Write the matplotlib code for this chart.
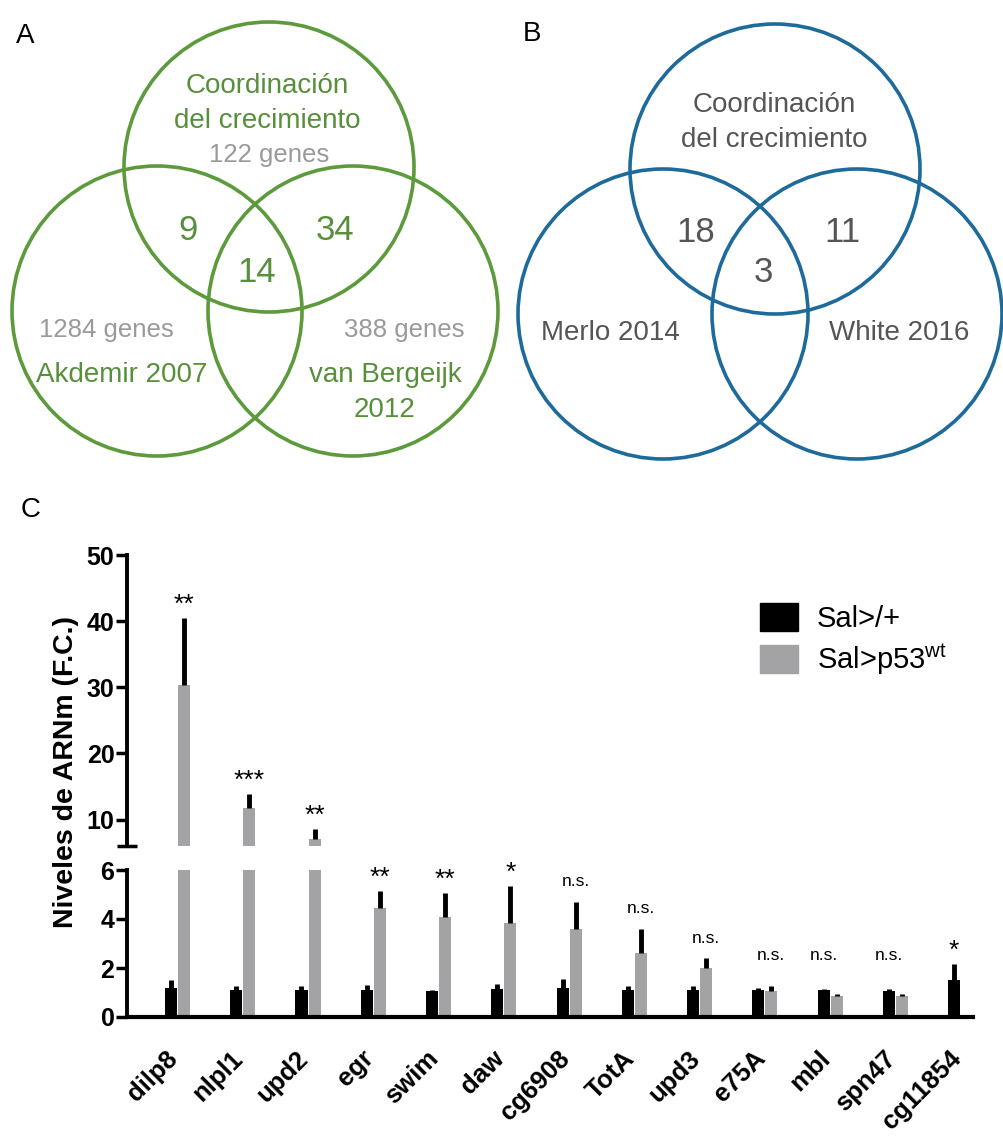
import matplotlib.pyplot as plt
import matplotlib.transforms as mtransforms
from matplotlib.patches import Circle

plt.rcParams['font.family'] = ['Liberation Sans', 'DejaVu Sans']

# --- data ---
genes = ['dilp8', 'nlpl1', 'upd2', 'egr', 'swim', 'daw', 'cg6908', 'TotA',
         'upd3', 'e75A', 'mbl', 'spn47', 'cg11854']
ctrl = [1.2, 1.1, 1.1, 1.1, 1.05, 1.15, 1.2, 1.1, 1.1, 1.1, 1.1, 1.05, 1.5]
ctrl_err = [0.3, 0.15, 0.15, 0.2, 0.05, 0.2, 0.35, 0.15, 0.15, 0.1, 0.05, 0.08, 0.65]
p53 = [30.3, 11.7, 7.0, 4.45, 4.1, 3.85, 3.6, 2.6, 2.0, 1.05, 0.85, 0.85, 0.05]
p53_err = [10.2, 2.1, 1.6, 0.7, 0.95, 1.5, 1.1, 1.0, 0.4, 0.2, 0.08, 0.08, 0.03]
signif = ['**', '***', '**', '**', '**', '*', 'n.s.', 'n.s.', 'n.s.', 'n.s.',
          'n.s.', 'n.s.', '*']
series_names = ['Sal>/+', 'Sal>p53$^{\\mathregular{wt}}$']

venn_a_sets = ['Coordinación\ndel crecimiento', 'Akdemir 2007', 'van Bergeijk\n2012']
venn_a_sizes = ['122 genes', '1284 genes', '388 genes']
venn_a_overlaps = [9, 34, 14]
venn_b_sets = ['Coordinación\ndel crecimiento', 'Merlo 2014', 'White 2016']
venn_b_overlaps = [18, 11, 3]

green = '#5c9a3c'
green_txt = '#578f3a'
blue = '#1d6a9b'
grey_txt = '#9a9a9a'
dark_txt = '#555555'
bar_grey = '#a3a3a6'

W, H = 1004, 1137
fig = plt.figure(figsize=(W / 100, H / 100), dpi=100)

# --- Venn diagrams (pixel layout axes) ---
av = fig.add_axes([0, 0, 1, 1])
av.set_xlim(0, W)
av.set_ylim(H, 0)
av.axis('off')


def lines(x, y, txt, color, size, step=35):
    # draw a multi-line label one line at a time, first line at y
    for k, t in enumerate(txt.split('\n')):
        av.text(x, y + k * step, t, color=color, fontsize=size,
                ha='center', va='center')


r = 145
for cx, cy in [(269, 167), (157, 311), (353, 311)]:
    av.add_patch(Circle((cx, cy), r, fill=False, ec=green, lw=2.6))
for cx, cy in [(775, 169), (663, 314), (857, 314)]:
    av.add_patch(Circle((cx, cy), r, fill=False, ec=blue, lw=2.6))

av.text(25, 36, 'A', fontsize=20, ha='center', va='center')
av.text(532, 34, 'B', fontsize=20, ha='center', va='center')
av.text(31, 510, 'C', fontsize=20, ha='center', va='center')

lines(267, 86, venn_a_sets[0], green_txt, 20)
av.text(269, 155, venn_a_sizes[0], color=grey_txt, fontsize=18.5, ha='center', va='center')
av.text(106, 330, venn_a_sizes[1], color=grey_txt, fontsize=18.5, ha='center', va='center')
lines(122, 375, venn_a_sets[1], green_txt, 20)
av.text(404, 330, venn_a_sizes[2], color=grey_txt, fontsize=18.5, ha='center', va='center')
lines(385, 375, venn_a_sets[2], green_txt, 20)
for (x, y), n in zip([(188, 230), (335, 230), (257, 272)], venn_a_overlaps):
    av.text(x, y, str(n), color=green_txt, fontsize=25, ha='center', va='center')

lines(774, 105, venn_b_sets[0], dark_txt, 20)
lines(610, 333, venn_b_sets[1], dark_txt, 20)
lines(899, 333, venn_b_sets[2], dark_txt, 20)
for (x, y), n in zip([(696, 233), (842, 233), (763, 273)], venn_b_overlaps):
    av.text(x, y, str(n), color=dark_txt, fontsize=25, ha='center', va='center')

# --- broken-axis bar chart ---
left = 127 / W
width = 846 / W
ax_top = fig.add_axes([left, 1 - 846 / H, width, (846 - 555) / H])
ax_bot = fig.add_axes([left, 1 - 1017 / H, width, (1017 - 870) / H])

x = list(range(len(genes)))
bw = 0.184
off = 0.1
xc = [i - off for i in x]
xg = [i + off for i in x]

for ax in (ax_top, ax_bot):
    ax.bar(xc, ctrl, bw, color='black', zorder=2)
    ax.bar(xg, p53, bw, color=bar_grey, zorder=2)
    ax.errorbar(xc, ctrl, yerr=[[0] * len(ctrl), ctrl_err], fmt='none',
                ecolor='black', elinewidth=3.5, capsize=0, zorder=3)
    ax.errorbar(xg, p53, yerr=[[0] * len(p53), p53_err], fmt='none',
                ecolor='black', elinewidth=3.5, capsize=0, zorder=3)
    ax.set_xlim(-0.774, 12.19)
    for s in ['top', 'right']:
        ax.spines[s].set_visible(False)
    ax.spines['left'].set_linewidth(2.8)
    ax.tick_params(axis='y', width=2.5, length=8, labelsize=18, pad=1)

ax_top.set_ylim(6, 50)
ax_top.set_yticks([10, 20, 30, 40, 50])
ax_top.set_yticklabels(['10', '20', '30', '40', '50'], fontweight='bold')
ax_top.spines['bottom'].set_visible(False)
ax_top.set_xticks([])
ax_top.set_yticks([6], minor=True)
ax_top.tick_params(axis='y', which='minor', direction='inout', length=14, width=2.5)

ax_bot.set_ylim(0, 6)
ax_bot.set_yticks([0, 2, 4, 6])
ax_bot.set_yticklabels(['0', '2', '4', '6'], fontweight='bold')
ax_bot.spines['bottom'].set_linewidth(3)
ax_bot.set_xticks(x)
ax_bot.set_xticklabels(genes, rotation=45, ha='right', va='top',
                       rotation_mode='anchor', fontsize=18.5, fontweight='bold')
ax_bot.tick_params(axis='x', length=0, pad=21)
shift = mtransforms.ScaledTranslation(-0.12, 0, fig.dpi_scale_trans)
for lab in ax_bot.get_xticklabels():
    lab.set_transform(lab.get_transform() + shift)

# significance labels above the taller bar
for i, s in enumerate(signif):
    tc = ctrl[i] + ctrl_err[i]
    tg = p53[i] + p53_err[i]
    if tg >= tc:
        xx, top = xg[i], tg
    else:
        xx, top = xc[i], tc
    top = max(top, 1.7)
    ax = ax_top if top > 6 else ax_bot
    if s == 'n.s.':
        ax.annotate(s, (xx, top), xytext=(0, 9), textcoords='offset points',
                    ha='center', va='bottom', fontsize=12.5, annotation_clip=False)
    else:
        ax.annotate(s, (xx, top), xytext=(0, 1), textcoords='offset points',
                    ha='center', va='bottom', fontsize=19, annotation_clip=False)

fig.text(66 / W, 1 - 772 / H, 'Niveles de ARNm (F.C.)', rotation=90,
         fontsize=20.5, fontweight='bold', ha='center', va='center')

# legend
leg = ax_top.legend(
    [plt.Rectangle((0, 0), 1, 1, color='black'),
     plt.Rectangle((0, 0), 1, 1, color=bar_grey)],
    series_names, loc='upper left', bbox_to_anchor=(734 / W, 1 - 577 / H),
    bbox_transform=fig.transFigure, frameon=False, fontsize=21,
    handlelength=1.3, handleheight=1.1, handletextpad=0.65, labelspacing=0.3)

fig.savefig('out.png', dpi=100)
